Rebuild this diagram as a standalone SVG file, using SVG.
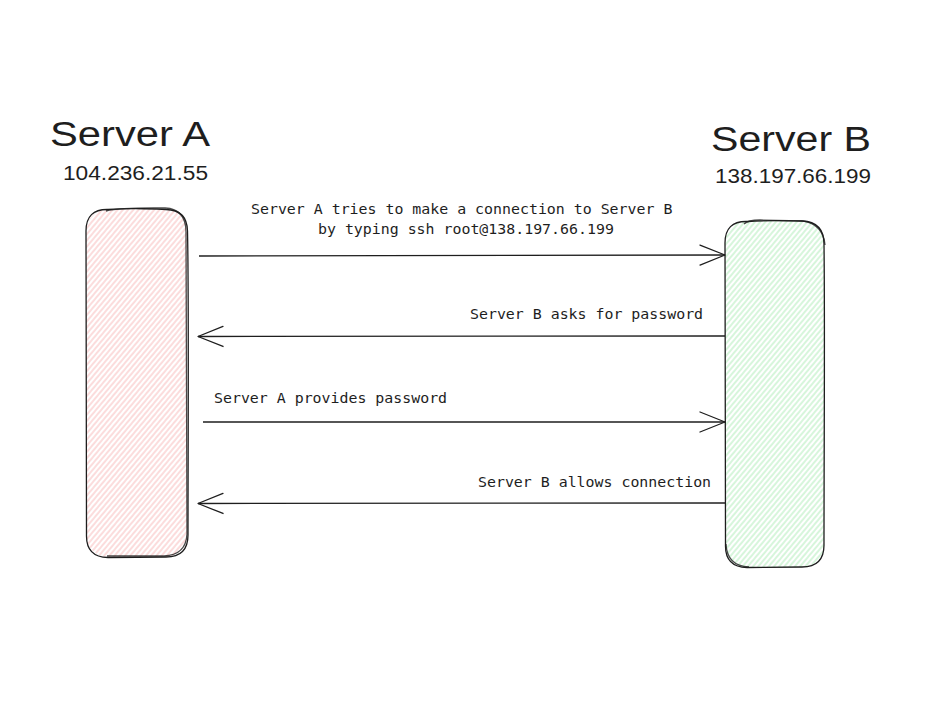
<svg xmlns="http://www.w3.org/2000/svg" width="948" height="708" viewBox="0 0 948 708">
<defs>
<pattern id="hatchA" width="4" height="10" patternUnits="userSpaceOnUse" patternTransform="rotate(40)">
<line x1="1" y1="0" x2="1" y2="10" stroke="#f7b2b2" stroke-width="0.9"/>
</pattern>
<pattern id="hatchB" width="4" height="10" patternUnits="userSpaceOnUse" patternTransform="rotate(40)">
<line x1="1" y1="0" x2="1" y2="10" stroke="#a6eab0" stroke-width="0.9"/>
</pattern>
<marker id="arr" markerWidth="30" markerHeight="24" refX="26" refY="12" orient="auto" markerUnits="userSpaceOnUse">
<path d="M1,2 L26,12 L1,22" fill="none" stroke="#1e1e1e" stroke-width="1.3" stroke-linecap="round" stroke-linejoin="round"/>
</marker>
</defs>
<style>
.title{font-family:"Liberation Sans","DejaVu Sans",sans-serif;font-size:35px;fill:#1e1e1e}
.ip{font-family:"Liberation Sans","DejaVu Sans",sans-serif;font-size:20px;fill:#1e1e1e}
.lbl{font-family:"DejaVu Sans Mono","Liberation Mono",monospace;font-size:14.9px;fill:#1e1e1e}
.box{stroke:#1e1e1e;stroke-width:1.3;fill:none}
.conn{stroke:#1e1e1e;stroke-width:1.3;fill:none}
</style>
<rect width="948" height="708" fill="#ffffff"/>
<g id="serverA">
<rect x="86" y="209" width="101" height="348" rx="22" fill="url(#hatchA)"/>
<path class="box" d="M108,209.5 C130,208 160,209 166,209.5 Q187,210 187.5,231 C189,300 188,450 188,535 Q188,557 166,557 L108,557.5 Q86,557 86.5,535 L86,231 Q86,209 108,209.5 Z"/>
<path class="box" d="M106,211 Q120,207.5 165,208 Q186,209 186,232 L187,534 Q186,555 164,556 L107,556" opacity="0.8"/>
<text class="title" x="50" y="146" textLength="160" lengthAdjust="spacingAndGlyphs">Server A</text>
<text class="ip" x="63" y="180" textLength="145" lengthAdjust="spacingAndGlyphs">104.236.21.55</text>
</g>
<g id="serverB">
<rect x="725" y="221" width="99" height="346" rx="22" fill="url(#hatchB)"/>
<path class="box" d="M747,221.5 C770,220 795,221 802,221 Q824,222 824,244 C825,320 824,460 824,545 Q824,567 802,567 L747,567.5 Q725,567 725.5,545 L725,243 Q725,221 747,221.5 Z"/>
<path class="box" d="M744,224 Q748,220 760,220 L803,221 Q823,224 825,245 M726,544 Q727,566 749,567" opacity="0.8"/>
<text class="title" x="711" y="151" textLength="160" lengthAdjust="spacingAndGlyphs">Server B</text>
<text class="ip" x="715" y="183" textLength="156" lengthAdjust="spacingAndGlyphs">138.197.66.199</text>
</g>
<g id="connectors">
<path class="conn" d="M199,256 L725,255" marker-end="url(#arr)"/>
<path class="conn" d="M725,336 L198,336.5" marker-end="url(#arr)"/>
<path class="conn" d="M203,422 L725,422" marker-end="url(#arr)"/>
<path class="conn" d="M725,503 L198,503.5" marker-end="url(#arr)"/>
</g>
<g id="labels">
<text class="lbl" x="251" y="214">Server A tries to make a connection to Server B</text>
<text class="lbl" x="318" y="234">by typing ssh root@138.197.66.199</text>
<text class="lbl" x="470" y="319">Server B asks for password</text>
<text class="lbl" x="214" y="403">Server A provides password</text>
<text class="lbl" x="478" y="487">Server B allows connection</text>
</g>
</svg>
